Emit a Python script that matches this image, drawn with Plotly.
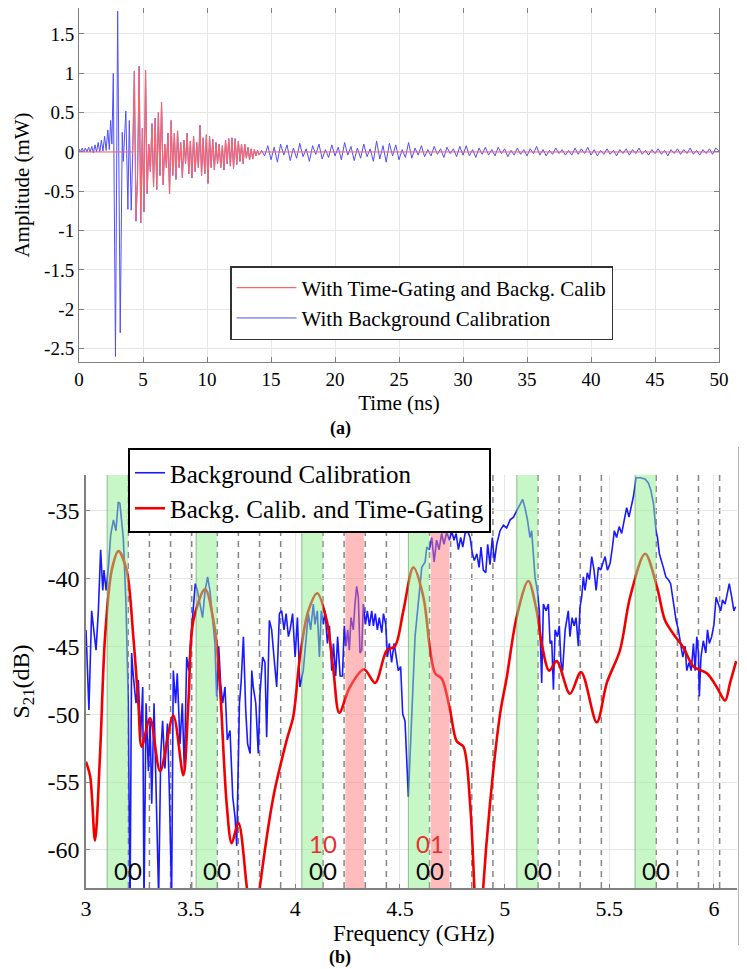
import numpy as np
import plotly.graph_objects as go

# colors used in the figure
colors = {
    'blue_a': '#4f4fff',
    'red_a': '#ff6464',
    'blue_b': '#1a1aff',
    'red_b': '#f20000',
    'green_band': '#90ee90',
    'red_band': '#ff7a7a',
    'grid': '#e6e6e6',
    'axis': '#808080',
    'dash': '#858585',
}
serif = 'Liberation Serif'

# ---- (a) time domain signal, amplitude in mW ----
# before the gate (background calibration only)
t_early = [0.0, 0.12, 0.25, 0.37, 0.5, 0.62, 0.75, 0.87, 1.0, 1.12,
           1.25, 1.37, 1.5, 1.62, 1.75, 1.87, 2.0, 2.12, 2.25, 2.37,
           2.47, 2.57, 2.68, 2.85, 3.02, 3.22, 3.38, 3.46, 3.66, 3.82,
           3.93, 4.08]
amp_early = [0.04, 0.0, 0.05, 0.0, 0.05, 0.0, 0.06, 0.0, 0.07, -0.01,
             0.09, 0.0, 0.12, 0.0, 0.15, 0.01, 0.2, 0.02, 0.28, 0.03,
             0.4, 0.1, 1.0, -2.6, 1.79, -2.3, 0.25, -0.12, 0.52, -0.73,
             0.4, -0.74]

# inside the time gate (same for both curves)
gate_start, gate_step = 4.2, 0.125
amp_gated = [0.0, 1.03, -0.88, -0.3, 1.09, -0.9, 0.3, -0.76, 1.04, -0.53,
             0.1, -0.25, 0.36, -0.44, 0.43, -0.48, 0.5, -0.3, 0.63, -0.42,
             0.1, -0.2, 0.24, -0.53, 0.4, -0.3, 0.24, -0.35, 0.27, -0.2,
             0.12, -0.33, 0.15, -0.15, 0.24, -0.28, 0.14, -0.33, 0.2, -0.25,
             0.12, -0.2, 0.34, -0.3, 0.18, -0.28, 0.22, -0.4, 0.2, -0.2,
             0.16, -0.23, 0.12, -0.15, 0.1, -0.2, 0.08, -0.23, 0.15, -0.15,
             0.17, -0.18, 0.18, -0.21, 0.17, -0.16, 0.14, -0.12, 0.1, -0.15,
             0.1, -0.08, 0.06, -0.1, 0.04, -0.09, 0.03, -0.05, 0.02, -0.04,
             0.0]

# after the gate (residual clutter)
tail_start, tail_step = 14.25, 0.25
amp_tail = [0.02, -0.05, 0.08, -0.10, 0.06, -0.13, 0.10, -0.04, 0.09, -0.11, 0.05, -0.08,
            0.11, -0.06, 0.04, -0.12, 0.08, -0.03, 0.10, -0.09, 0.03, -0.07, 0.09, -0.05,
            0.06, -0.10, 0.12, -0.04, 0.07, -0.11, 0.05, -0.08, 0.10, -0.06, 0.04, -0.12,
            0.14, -0.09, 0.08, -0.13, 0.11, -0.05, 0.09, -0.10, 0.03, -0.07, 0.12, -0.08,
            0.05, -0.04, 0.08, -0.06, 0.03, -0.05, 0.07, -0.03, 0.04, -0.07, 0.06, -0.02,
            0.04, -0.06, 0.07, -0.04, 0.08, -0.05, 0.03, -0.07, 0.05, -0.03, 0.06, -0.04,
            0.03, -0.05, 0.06, -0.02, 0.04, -0.06, 0.02, -0.04, 0.05, -0.03, 0.03, -0.05,
            0.04, -0.02, 0.07, -0.04, 0.03, -0.05, 0.02, -0.03, 0.05, -0.02, 0.03, -0.04,
            0.02, -0.04, 0.05, -0.03, 0.04, -0.02, 0.06, -0.04, 0.03, -0.05, 0.02, -0.03,
            0.04, -0.03, 0.02, -0.05, 0.03, -0.02, 0.04, -0.04, 0.03, -0.02, 0.05, -0.03,
            0.02, -0.04, 0.03, -0.02, 0.04, -0.03, 0.02, -0.05, 0.03, -0.02, 0.04, -0.03,
            0.03, -0.02, 0.05, -0.03, 0.02, -0.04, 0.03, -0.02, 0.04, -0.03, 0.05, 0.01]

time_ticks = [0, 5, 10, 15, 20, 25, 30, 35, 40, 45, 50]
amp_ticks = [-2.5, -2, -1.5, -1, -0.5, 0, 0.5, 1, 1.5]

# ---- (b) frequency response, S21 in dB ----
freq_bg = [3.000, 3.003, 3.014, 3.027, 3.038, 3.048, 3.059, 3.070, 3.080, 3.086,
           3.096, 3.107, 3.118, 3.131, 3.143, 3.154, 3.162, 3.178, 3.191, 3.202,
           3.210, 3.218, 3.226, 3.239, 3.250, 3.261, 3.271, 3.277, 3.287, 3.298,
           3.306, 3.314, 3.325, 3.334, 3.347, 3.357, 3.366, 3.377, 3.389, 3.398,
           3.409, 3.417, 3.428, 3.436, 3.449, 3.460, 3.470, 3.481, 3.491, 3.500,
           3.513, 3.522, 3.532, 3.545, 3.557, 3.569, 3.581, 3.592, 3.605, 3.616,
           3.624, 3.634, 3.643, 3.653, 3.664, 3.675, 3.688, 3.701, 3.712, 3.720,
           3.733, 3.741, 3.752, 3.763, 3.772, 3.784, 3.792, 3.799, 3.811, 3.823,
           3.831, 3.844, 3.855, 3.863, 3.876, 3.887, 3.898, 3.911, 3.924, 3.935,
           3.946, 3.956, 3.967, 3.975, 3.987, 3.999, 4.010, 4.022, 4.038, 4.051,
           4.062, 4.073, 4.086, 4.094, 4.105, 4.115, 4.124, 4.134, 4.142, 4.153,
           4.163, 4.174, 4.182, 4.193, 4.202, 4.214, 4.225, 4.234, 4.242, 4.250,
           4.258, 4.266, 4.277, 4.285, 4.293, 4.301, 4.309, 4.317, 4.325, 4.335,
           4.344, 4.354, 4.365, 4.373, 4.382, 4.392, 4.401, 4.413, 4.421, 4.432,
           4.440, 4.449, 4.460, 4.472, 4.481, 4.492, 4.503, 4.513, 4.524, 4.532,
           4.540, 4.572, 4.604, 4.620, 4.628, 4.640, 4.652, 4.663, 4.675, 4.687,
           4.699, 4.710, 4.723, 4.736, 4.747, 4.758, 4.768, 4.779, 4.790, 4.800,
           4.811, 4.822, 4.835, 4.846, 4.855, 4.867, 4.878, 4.887, 4.898, 4.910,
           4.919, 4.930, 4.941, 4.951, 4.962, 4.978, 4.994, 5.010, 5.026, 5.042,
           5.058, 5.074, 5.086, 5.097, 5.109, 5.121, 5.129, 5.137, 5.145, 5.156,
           5.166, 5.177, 5.185, 5.198, 5.209, 5.217, 5.225, 5.233, 5.241, 5.252,
           5.261, 5.269, 5.277, 5.289, 5.297, 5.304, 5.312, 5.322, 5.332, 5.341,
           5.352, 5.360, 5.368, 5.376, 5.384, 5.395, 5.405, 5.416, 5.427, 5.437,
           5.448, 5.459, 5.469, 5.480, 5.491, 5.504, 5.515, 5.524, 5.535, 5.547,
           5.559, 5.570, 5.583, 5.594, 5.607, 5.615, 5.628, 5.647, 5.671, 5.687,
           5.698, 5.711, 5.723, 5.730, 5.739, 5.750, 5.758, 5.770, 5.782, 5.793,
           5.806, 5.819, 5.830, 5.841, 5.851, 5.862, 5.870, 5.881, 5.891, 5.902,
           5.910, 5.918, 5.926, 5.930, 5.938, 5.949, 5.961, 5.969, 5.978, 5.989,
           6.000, 6.010, 6.021, 6.032, 6.041, 6.053, 6.064, 6.073, 6.085, 6.095,
           6.103]
s21_bg = [-43.8, -45.5, -49.7, -42.4, -43.8, -45.3, -42.4, -37.9, -40.9, -39.4,
          -40.9, -39.2, -36.8, -35.7, -36.5, -34.4, -34.5, -37.0, -41.9, -49.2,
          -65.0, -45.5, -47.2, -49.2, -47.5, -51.7, -48.0, -64.0, -49.2, -54.2,
          -50.5, -56.6, -49.2, -54.2, -63.5, -53.0, -50.5, -54.0, -50.7, -55.6,
          -63.5, -46.8, -49.2, -47.0, -52.2, -49.2, -54.2, -45.8, -46.8, -44.6,
          -42.4, -40.4, -40.9, -41.9, -42.9, -40.9, -39.9, -40.9, -43.1, -44.8,
          -48.7, -45.0, -47.7, -49.2, -48.0, -51.9, -51.2, -56.1, -57.6, -59.7,
          -49.2, -47.7, -44.3, -49.7, -52.2, -52.9, -46.8, -48.0, -49.2, -52.9,
          -48.5, -45.8, -46.2, -51.7, -43.1, -43.8, -45.8, -48.0, -42.6, -42.4,
          -43.8, -42.6, -44.3, -43.8, -42.6, -45.8, -42.9, -48.0, -46.8, -44.3,
          -42.6, -43.8, -41.9, -43.4, -42.4, -45.8, -42.4, -43.4, -42.4, -44.8,
          -43.5, -46.8, -44.8, -47.2, -44.3, -47.2, -47.2, -43.5, -45.0, -43.8,
          -45.3, -42.9, -43.8, -41.9, -40.6, -41.4, -45.5, -45.3, -41.9, -43.4,
          -42.4, -43.5, -42.4, -43.5, -42.6, -43.8, -42.9, -44.0, -42.6, -43.4,
          -45.8, -44.8, -46.2, -44.8, -45.8, -46.8, -46.5, -50.0, -50.5, -53.0,
          -56.1, -44.3, -39.2, -38.8, -37.7, -37.9, -37.0, -38.8, -37.2, -37.9,
          -36.7, -37.5, -36.6, -37.2, -36.5, -37.2, -36.7, -37.9, -37.0, -37.7,
          -36.7, -36.5, -37.0, -38.2, -38.7, -38.2, -39.2, -37.7, -39.4, -39.6,
          -37.5, -39.0, -37.0, -38.8, -37.5, -36.5, -36.1, -36.3, -35.7, -35.5,
          -35.0, -34.5, -34.2, -34.8, -35.7, -37.0, -36.5, -38.2, -39.9, -40.9,
          -42.4, -47.7, -41.9, -42.4, -41.9, -44.8, -44.6, -48.2, -43.8, -44.3,
          -43.5, -46.2, -46.8, -43.8, -43.1, -42.4, -44.3, -42.9, -43.5, -42.9,
          -45.0, -42.1, -41.4, -39.9, -40.9, -39.6, -40.1, -38.4, -39.4, -40.9,
          -39.2, -39.4, -38.9, -38.4, -39.4, -38.9, -37.7, -36.5, -37.0, -36.2,
          -36.7, -35.7, -34.8, -35.5, -34.5, -34.0, -32.6, -32.6, -32.7, -33.0,
          -33.5, -34.5, -36.5, -37.0, -38.2, -38.7, -39.2, -39.9, -40.1, -40.4,
          -41.9, -43.1, -43.8, -44.8, -45.8, -45.0, -46.8, -46.2, -46.8, -44.8,
          -46.8, -44.3, -45.5, -48.7, -45.8, -44.6, -45.5, -43.8, -44.8, -44.3,
          -43.4, -41.4, -41.9, -42.4, -41.6, -41.9, -41.1, -40.4, -41.4, -42.4,
          -42.1]

freq_tg = [3.000, 3.020, 3.043, 3.067, 3.091, 3.123, 3.155, 3.194, 3.226, 3.250,
           3.266, 3.306, 3.354, 3.417, 3.465, 3.489, 3.513, 3.569, 3.616, 3.640,
           3.672, 3.696, 3.728, 3.768, 3.800, 3.831, 3.895, 3.959, 3.990, 4.022,
           4.062, 4.105, 4.150, 4.182, 4.210, 4.261, 4.328, 4.381, 4.437, 4.476,
           4.516, 4.564, 4.612, 4.644, 4.668, 4.700, 4.739, 4.771, 4.803, 4.835,
           4.855, 4.875, 4.898, 4.930, 4.978, 5.010, 5.058, 5.113, 5.153, 5.177,
           5.213, 5.249, 5.312, 5.365, 5.440, 5.488, 5.551, 5.599, 5.671, 5.727,
           5.766, 5.806, 5.854, 5.902, 5.966, 6.013, 6.053, 6.077, 6.106]
s21_tg = [-53.5, -54.6, -59.3, -53.0, -44.3, -39.4, -38.0, -39.4, -44.3, -49.2,
          -52.4, -50.3, -54.2, -50.1, -54.5, -49.2, -43.1, -40.8, -43.8, -48.0,
          -56.6, -59.5, -58.0, -62.7, -67.0, -62.7, -56.1, -51.9, -50.2, -45.8,
          -42.4, -41.1, -43.1, -46.8, -49.9, -48.0, -46.7, -47.7, -45.3, -45.0,
          -42.4, -39.2, -41.4, -45.3, -47.0, -47.4, -49.7, -52.0, -52.4, -56.6,
          -62.7, -70.0, -62.7, -56.6, -50.0, -47.3, -42.8, -40.2, -42.4, -44.8,
          -46.8, -46.1, -48.5, -46.9, -50.6, -47.7, -45.3, -41.4, -38.2, -40.6,
          -43.1, -44.1, -45.1, -46.5, -47.0, -48.0, -49.0, -47.7, -46.1]

# frequency slots: groups of 4 slots, first slot of each group is the reference
group_starts = [3.101, 3.526, 4.031, 4.540, 5.058, 5.623]
slot_width = 0.101
group_codes = ['00', '00', '00', '00', '00', '00']
tag_codes = ['', '', '10', '01', '', '']
red_slots = [None, None, 2, 1, None, None]

freq_ticks = [3, 3.5, 4, 4.5, 5, 5.5, 6]
s21_ticks = [-60, -55, -50, -45, -40, -35]

# the page adds an 8 px body margin, so the figure is placed from (8, 8)
W, H, OFF = 739, 961, 8


def px(x):
    return (x - OFF) / W


def py(y):
    return 1 - (y - OFF) / H


t_gate = list(gate_start + gate_step * np.arange(len(amp_gated)))
t_tail = list(tail_start + tail_step * np.arange(len(amp_tail)))

fig = go.Figure()

# (a) traces
fig.add_trace(go.Scatter(x=t_early + t_gate + t_tail, y=amp_early + amp_gated + amp_tail,
                         mode='lines', line=dict(color=colors['blue_a'], width=1),
                         name='With Background Calibration', legendrank=2,
                         xaxis='x', yaxis='y', legend='legend'))
fig.add_trace(go.Scatter(x=[0] + t_gate + [50], y=[0] + amp_gated + [0],
                         mode='lines', line=dict(color=colors['red_a'], width=1.1),
                         name='With Time-Gating and Backg. Calib', legendrank=1,
                         xaxis='x', yaxis='y', legend='legend'))

# (b) traces
fig.add_trace(go.Scatter(x=freq_bg, y=s21_bg, mode='lines',
                         line=dict(color=colors['blue_b'], width=1.6),
                         name='Background Calibration', legendrank=1,
                         xaxis='x2', yaxis='y2', legend='legend2'))
fig.add_trace(go.Scatter(x=freq_tg, y=s21_tg, mode='lines',
                         line=dict(color=colors['red_b'], width=2.6, shape='spline', smoothing=0.9),
                         name='Backg. Calib. and Time-Gating', legendrank=2,
                         xaxis='x2', yaxis='y2', legend='legend2'))

# slot bands, dashed slot borders and code labels
shapes = []
annotations = []
for i, start in enumerate(group_starts):
    shapes.append(dict(type='rect', xref='x2', yref='y2 domain', x0=start, x1=start + slot_width,
                       y0=0, y1=1, fillcolor=colors['green_band'], opacity=0.5,
                       line=dict(width=0), layer='above'))
    shapes.append(dict(type='line', xref='x2', yref='y2 domain', x0=start, x1=start, y0=0, y1=1,
                       line=dict(color='rgba(70,140,70,0.55)', width=1), layer='above'))
    for k in range(1, 5):
        xk = start + k * slot_width
        shapes.append(dict(type='line', xref='x2', yref='y2 domain', x0=xk, x1=xk, y0=0, y1=1,
                           line=dict(color=colors['dash'], width=1.5, dash='6px,5px'), layer='below'))
    if red_slots[i] is not None:
        r0 = start + red_slots[i] * slot_width
        shapes.append(dict(type='rect', xref='x2', yref='y2 domain', x0=r0 + 0.006,
                           x1=r0 + slot_width - 0.006, y0=0, y1=1,
                           fillcolor=colors['red_band'], opacity=0.5,
                           line=dict(width=0), layer='above'))
    annotations.append(dict(x=start + slot_width, y=-61.5, xref='x2', yref='y2',
                            text=group_codes[i], showarrow=False,
                            font=dict(family='Lato', size=24, color='#0a0a0a')))
    if tag_codes[i]:
        annotations.append(dict(x=start + slot_width, y=-59.5, xref='x2', yref='y2',
                                text=tag_codes[i], showarrow=False,
                                font=dict(family='Lato', size=24, color='#e53030')))

# frame line on the right of panel (b)
shapes.append(dict(type='line', xref='paper', yref='paper', x0=px(739), x1=px(739),
                   y0=py(447), y1=py(945), line=dict(color='#9a9a9a', width=1.5)))

# panel captions and the frequency axis title
annotations.append(dict(x=px(340), y=py(428), xref='paper', yref='paper', text='<b>(a)</b>',
                        xanchor='center', yanchor='middle', showarrow=False,
                        font=dict(family=serif, size=18, color='black')))
annotations.append(dict(x=px(340), y=py(957), xref='paper', yref='paper', text='<b>(b)</b>',
                        xanchor='center', yanchor='middle', showarrow=False,
                        font=dict(family=serif, size=18, color='black')))
annotations.append(dict(x=px(414), y=py(933), xref='paper', yref='paper', text='Frequency (GHz)',
                        xanchor='center', yanchor='middle', showarrow=False,
                        font=dict(family=serif, size=23, color='black')))

axis_a = dict(showgrid=True, gridcolor=colors['grid'], zeroline=False, showline=True,
              linecolor=colors['axis'], linewidth=1, mirror='ticks', ticks='inside',
              ticklen=5, tickcolor=colors['axis'], automargin=False,
              tickfont=dict(family=serif, size=19, color='black'))
axis_b = dict(showgrid=True, gridcolor=colors['grid'], zeroline=False, showline=True,
              linecolor=colors['axis'], linewidth=1.5, mirror=False, ticks='inside',
              ticklen=4, tickcolor=colors['axis'], automargin=False,
              tickfont=dict(family=serif, size=24, color='black'))

fig.update_layout(
    width=W, height=H,
    margin=dict(l=0, r=0, t=0, b=0),
    paper_bgcolor='white', plot_bgcolor='white',
    template='none',
    font=dict(family=serif, color='black'),
    xaxis=dict(axis_a, domain=[px(79), px(719)], range=[0, 50], anchor='y',
               tickvals=time_ticks, ticktext=[f'{v:g}' for v in time_ticks],
               title=dict(text='Time (ns)', font=dict(family=serif, size=21), standoff=6)),
    yaxis=dict(axis_a, domain=[py(362), py(8)], range=[-2.67, 1.83], anchor='x',
               tickvals=amp_ticks, ticktext=[f'{v:g}' for v in amp_ticks],
               title=dict(text='Amplitude (mW)', font=dict(family=serif, size=21), standoff=8)),
    xaxis2=dict(axis_b, domain=[px(86), px(737)], range=[3, 6.11], anchor='y2',
                tickvals=freq_ticks, ticktext=[f'{v:g}' for v in freq_ticks],
                tickfont=dict(family=serif, size=22, color='black')),
    yaxis2=dict(axis_b, domain=[py(888), py(475)], range=[-62.8, -32.4], anchor='x2',
                tickvals=s21_ticks, ticktext=[f'{v:g}' for v in s21_ticks],
                title=dict(text='S<sub>21</sub>(dB)', font=dict(family=serif, size=24), standoff=16)),
    legend=dict(x=px(230), y=py(266), xanchor='left', yanchor='top',
                bgcolor='white', bordercolor='#333333', borderwidth=1.5,
                font=dict(family=serif, size=21, color='black'), itemwidth=60,
                tracegroupgap=0),
    legend2=dict(x=px(128), y=py(448), xanchor='left', yanchor='top',
                 bgcolor='white', bordercolor='black', borderwidth=2,
                 font=dict(family=serif, size=25, color='black'), itemwidth=30,
                 tracegroupgap=0),
    shapes=shapes,
    annotations=annotations,
    showlegend=True,
)

fig.write_html("out.html")
